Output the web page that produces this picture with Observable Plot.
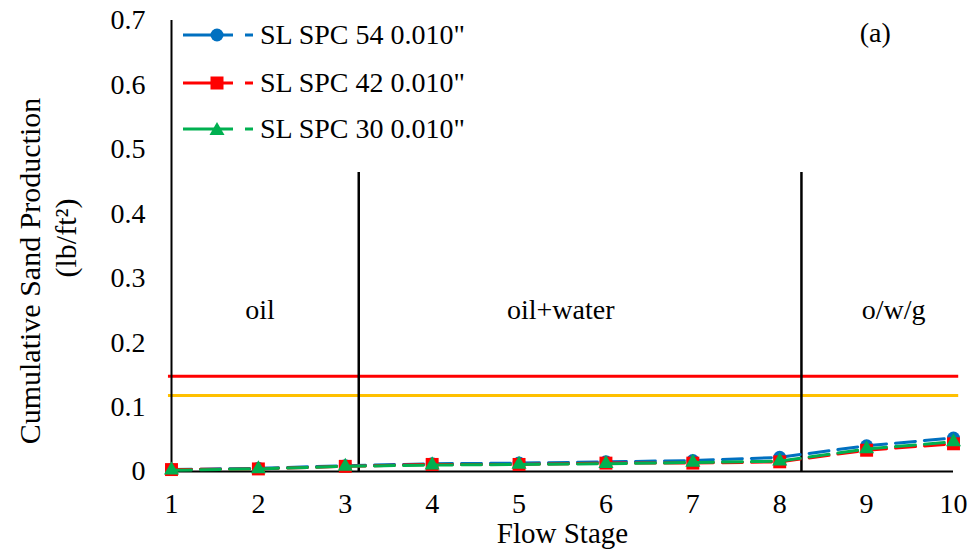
<!DOCTYPE html>
<html>
<head>
<meta charset="utf-8">
<script src="https://cdn.jsdelivr.net/npm/d3@7"></script>
<script src="https://cdn.jsdelivr.net/npm/@observablehq/plot@0.6"></script>
<style>
  body { margin: 0; background: #fff; }
  #wrap { position: relative; width: 971px; height: 556px; font-family: "Liberation Serif", "Times New Roman", serif; }
  #legend { position: absolute; left: 183px; top: 0; }
  .item { position: absolute; left: 0; height: 32px; display: flex; align-items: center; white-space: nowrap; font-size: 28px; color: #000; }
  .item svg { margin-right: 7px; }
</style>
</head>
<body>
<div id="wrap"><div id="legend"></div></div>
<script>
// ---- data ----
const stages = [1, 2, 3, 4, 5, 6, 7, 8, 9, 10];
const spc54 = [0.003, 0.005, 0.009, 0.012, 0.013, 0.015, 0.017, 0.022, 0.040, 0.052];
const spc42 = [0.003, 0.004, 0.008, 0.011, 0.011, 0.013, 0.013, 0.015, 0.033, 0.043];
const spc30 = [0.002, 0.004, 0.008, 0.010, 0.011, 0.012, 0.014, 0.016, 0.035, 0.046];
const seriesNames = ['SL SPC 54 0.010"', 'SL SPC 42 0.010"', 'SL SPC 30 0.010"'];
const seriesColors = ["#0070C0", "#FF0000", "#00B050"];
const seriesSymbols = ["circle", "square", "triangle"];
const seriesRadius = [6.5, 7.3, 5.6];
const yTicks = [0, 0.1, 0.2, 0.3, 0.4, 0.5, 0.6, 0.7];
const xTicks = [1, 2, 3, 4, 5, 6, 7, 8, 9, 10];
const regionBounds = [3.155, 8.25];
const regionTop = 0.464;
const regionLabels = ["oil", "oil+water", "o/w/g"];
const regionLabelX = [2.02, 5.48, 9.31];
const regionLabelY = 0.25;
const limitValues = [0.148, 0.118];
const limitColors = ["#FF0000", "#FFC000"];
const limitSpan = [0.965, 10.06];
const panelLabel = "(a)";
const panelLabelPos = [9.10, 0.68];
const xTitle = "Flow Stage";
const yTitle1 = "Cumulative Sand Production";
const yTitle2 = "(lb/ft\u00B2)";

const FONT = '"Liberation Serif", "Times New Roman", serif';
const allSeries = [spc54, spc42, spc30];

const seriesMarks = [];
allSeries.forEach((vals, i) => {
  const rows = stages.map((s, j) => ({ stage: s, value: vals[j] }));
  seriesMarks.push(Plot.line(rows, { x: "stage", y: "value", stroke: seriesColors[i], strokeWidth: 3, strokeDasharray: "20,9" }));
  seriesMarks.push(Plot.dot(rows, { x: "stage", y: "value", symbol: seriesSymbols[i], r: seriesRadius[i], fill: seriesColors[i], stroke: "none" }));
});

const limitMarks = limitValues.map((v, i) =>
  Plot.ruleY([v], { x1: limitSpan[0], x2: limitSpan[1], stroke: limitColors[i], strokeWidth: 3 }));

const regionRows = regionLabels.map((t, i) => ({ t, x: regionLabelX[i], y: regionLabelY }));

const chart = Plot.plot({
  width: 971,
  height: 556,
  marginLeft: 171,
  marginRight: 18,
  marginTop: 20,
  marginBottom: 85,
  style: { fontFamily: FONT, fontSize: "28px", background: "#fff", color: "#000", overflow: "visible" },
  x: { domain: [1, 10] },
  y: { domain: [0, 0.7] },
  marks: [
    ...limitMarks,
    Plot.ruleX(regionBounds, { y1: 0, y2: regionTop, stroke: "#000", strokeWidth: 2.5 }),
    Plot.ruleX([1], { y1: 0, y2: 0.7, stroke: "#000", strokeWidth: 2 }),
    Plot.ruleY([0], { stroke: "#000", strokeWidth: 2 }),
    ...seriesMarks,
    Plot.text(regionRows, { x: "x", y: "y", text: "t", fontSize: 28, fill: "#000" }),
    Plot.text([panelLabel], { x: panelLabelPos[0], y: panelLabelPos[1], fontSize: 28, fill: "#000" }),
    Plot.axisY({ ticks: yTicks, tickSize: 0, tickPadding: 26, tickFormat: d => d === 0 ? "0" : d.toFixed(1), label: null, fontSize: 28 }),
    Plot.axisX({ ticks: xTicks, tickSize: 0, tickPadding: 22, tickFormat: d => String(d), label: null, fontSize: 28 }),
    Plot.text([xTitle], { frameAnchor: "bottom", dy: 71, fontSize: 29, fill: "#000" }),
    Plot.text([yTitle1], { frameAnchor: "left", textAnchor: "middle", rotate: -90, dx: -141, dy: 25, fontSize: 30, fill: "#000" }),
    Plot.text([yTitle2], { frameAnchor: "left", textAnchor: "middle", rotate: -90, dx: -105, dy: -8, fontSize: 30, fill: "#000" })
  ]
});

const wrap = document.getElementById("wrap");
wrap.insertBefore(chart, wrap.firstChild);
chart.style.position = "absolute";
chart.style.left = "0";
chart.style.top = "0";

// legend
const legendCenters = [35, 83, 129];
const legend = document.getElementById("legend");
seriesNames.forEach((name, i) => {
  const item = document.createElement("div");
  item.className = "item";
  item.style.top = (legendCenters[i] - 16) + "px";
  const c = seriesColors[i];
  let marker;
  if (seriesSymbols[i] === "circle") marker = `<circle cx="34" cy="16" r="6.5" fill="${c}"/>`;
  else if (seriesSymbols[i] === "square") marker = `<rect x="27.5" y="9.5" width="13" height="13" fill="${c}"/>`;
  else marker = `<polygon points="34,9 41.5,22 26.5,22" fill="${c}"/>`;
  item.innerHTML = `<svg width="70" height="32"><line x1="0" x2="70" y1="16" y2="16" stroke="${c}" stroke-width="3" stroke-dasharray="50 12 8"/>${marker}</svg><span>${name}</span>`;
  legend.appendChild(item);
});
</script>
</body>
</html>
